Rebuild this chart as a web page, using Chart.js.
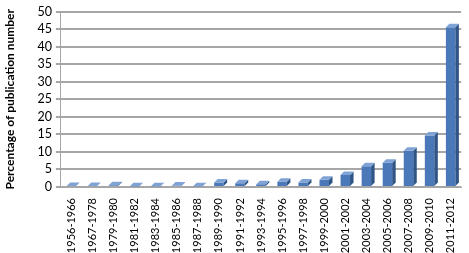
<!DOCTYPE html>
<html>
<head>
<meta charset="utf-8">
<script src="https://cdn.jsdelivr.net/npm/chart.js@4"></script>
<style>
  html, body { margin: 0; padding: 0; background: #fff; }
  #wrap { width: 469px; height: 253px; }
</style>
</head>
<body>
<div id="wrap"><canvas id="chart" width="469" height="253"></canvas></div>
<script>
const periods = ['1956-1966', '1967-1978', '1979-1980', '1981-1982', '1983-1984', '1985-1986', '1987-1988',
  '1989-1990', '1991-1992', '1993-1994', '1995-1996', '1997-1998', '1999-2000', '2001-2002',
  '2003-2004', '2005-2006', '2007-2008', '2009-2010', '2011-2012'];
const percentages = [0.3, 0.3, 0.5, 0.2, 0.2, 0.4, 0.2, 1.3, 1.1, 0.8, 1.5, 1.3, 2.1, 3.4, 5.9, 6.9, 10.3, 14.7, 45.5];
const yTicks = [0, 5, 10, 15, 20, 25, 30, 35, 40, 45, 50];

// fake the 3D look: top and side faces drawn from each bar's own geometry
const bar3d = {
  id: 'bar3d',
  afterDatasetsDraw(chart) {
    const ctx = chart.ctx;
    const d = 3.5;
    chart.getDatasetMeta(0).data.forEach((b) => {
      const l = b.x - b.width / 2, r = b.x + b.width / 2;
      ctx.save();
      ctx.fillStyle = '#2f5486';
      ctx.beginPath();
      ctx.moveTo(r, b.y); ctx.lineTo(r + d, b.y - d); ctx.lineTo(r + d, b.base - d); ctx.lineTo(r, b.base);
      ctx.closePath(); ctx.fill();
      ctx.fillStyle = '#7fa3d4';
      ctx.beginPath();
      ctx.moveTo(l, b.y); ctx.lineTo(l + d, b.y - d); ctx.lineTo(r + d, b.y - d); ctx.lineTo(r, b.y);
      ctx.closePath(); ctx.fill();
      ctx.restore();
    });
  }
};

new Chart(document.getElementById('chart'), {
  type: 'bar',
  data: {
    labels: periods,
    datasets: [{
      data: percentages,
      backgroundColor: '#4a78b8',
      borderWidth: 0,
      barPercentage: 0.45,
      categoryPercentage: 1
    }]
  },
  options: {
    responsive: false,
    animation: false,
    layout: { padding: { left: 3, right: 6, top: 5, bottom: 0 } },
    plugins: { legend: { display: false }, tooltip: { enabled: false } },
    scales: {
      x: {
        afterFit: (axis) => { axis.height = 66; },
        grid: { display: false, drawTicks: true, tickLength: 6 },
        border: { color: '#a6a6a6', width: 1 },
        ticks: {
          minRotation: 90, maxRotation: 90, autoSkip: false,
          color: '#000', font: { family: 'Lato', size: 11 }, padding: 5
        }
      },
      y: {
        min: 0, max: 50,
        afterBuildTicks: (axis) => { axis.ticks = yTicks.map((v) => ({ value: v })); },
        grid: { color: '#a6a6a6', lineWidth: 2, tickLength: 5 },
        border: { color: '#a6a6a6', width: 1 },
        ticks: { color: '#000', font: { family: 'Lato', size: 12.5 }, padding: 4, autoSkip: false },
        title: {
          display: true, text: 'Percentage of publication number',
          color: '#000', font: { family: 'Lato', size: 12, weight: 'bold' },
          padding: { top: 0, bottom: 16 }
        }
      }
    }
  },
  plugins: [bar3d]
});
</script>
</body>
</html>
